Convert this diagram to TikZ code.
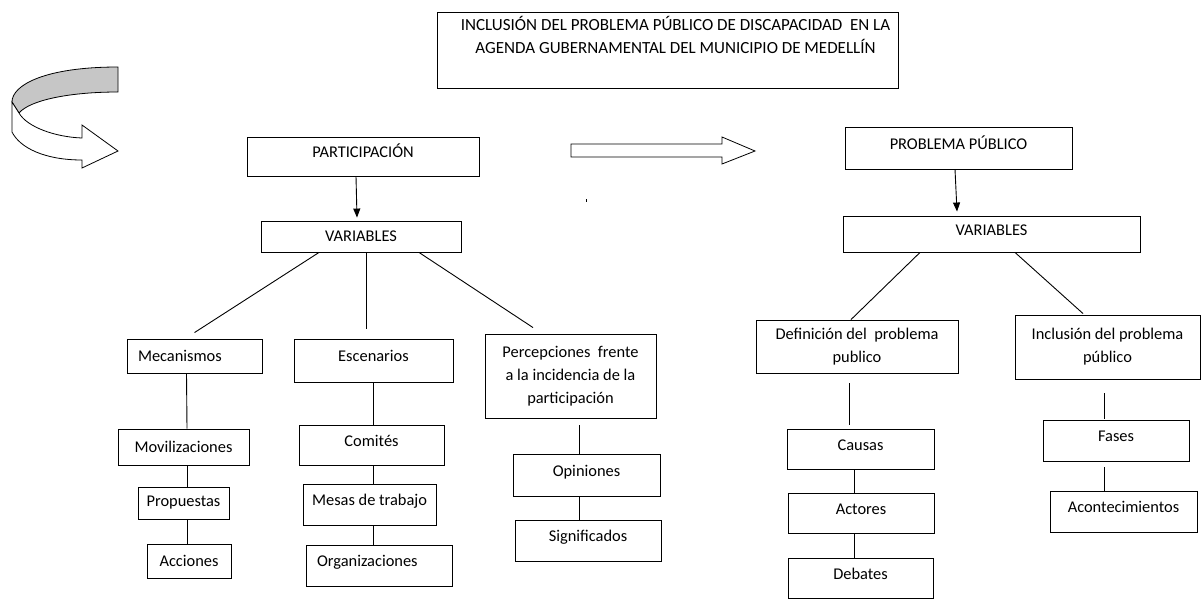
\documentclass[tikz,border=0pt]{standalone}
\usepackage{fontspec}
\setmainfont{Carlito}
\usetikzlibrary{calc,arrows.meta}

\begin{document}
\begin{tikzpicture}[x=1pt,y=-1pt]
\colorlet{foldcol}{gray!45}
\tikzstyle{box}=[draw=black,line width=0.9pt,rectangle,align=center,inner sep=0pt,font=\fontsize{16.4}{23}\selectfont];
\tikzstyle{up}=[box,text height=11pt,text depth=9pt];
\tikzstyle{lbox}=[box,align=left,inner xsep=11pt];
\tikzstyle{link}=[line width=0.9pt];
\tikzstyle{down}=[link,-{Triangle[length=9pt,width=7pt]}];

\useasboundingbox (0,0) rectangle (1201,598);

% title
\node[box,minimum width=461pt,minimum height=76pt,font=\fontsize{17}{23}\selectfont] (title) at (667.5,50)
  {\hspace*{16pt}INCLUSIÓN DEL PROBLEMA PÚBLICO DE DISCAPACIDAD\ \ EN LA\\\hspace*{16pt}AGENDA GUBERNAMENTAL DEL MUNICIPIO DE MEDELLÍN\\ \strut};

% curved arrow
\filldraw[fill=foldcol,line width=0.8pt] (118,67) .. controls (45,67) and (12,85) .. (12,102)
  -- (19,113) .. controls (30,100) and (70,92) .. (118,92) -- cycle;
\filldraw[fill=white,line width=0.8pt] (12,102) -- (12,132) .. controls (20,148) and (45,160) .. (82,160)
  -- (82,168) -- (118,151) -- (82,125) -- (82,138) .. controls (55,137) and (27,127) .. (19,113) -- cycle;

% block arrow
\draw[line width=0.8pt] (571,144) -- (722,144) -- (722,137) -- (755,151) -- (722,164) -- (722,157) -- (571,157) -- cycle;
\draw[line width=0.6pt] (586,199) -- (586,202);

\begin{scope}
    \node[up,minimum width=232pt,minimum height=39pt] (part) at (363,156.5) {PARTICIPACIÓN};
    \node[box,minimum width=200pt,minimum height=31pt] (var1) at (361,236.5) {VARIABLES};

    \node[lbox,minimum width=135pt,minimum height=34pt,text width=113pt] (mec) at (194.5,356) {Mecanismos};
    \node[box,minimum width=131pt,minimum height=36pt] (mov) at (183.5,447) {Movilizaciones};
    \node[box,minimum width=91pt,minimum height=32pt] (prop) at (183.5,503) {Propuestas};
    \node[box,minimum width=84pt,minimum height=34pt] (acc) at (189,561) {Acciones};

    \node[up,minimum width=159pt,minimum height=43pt] (esc) at (373.5,360.5) {Escenarios};
    \node[up,minimum width=145pt,minimum height=40pt] (com) at (371.5,445) {Comités};
    \node[up,minimum width=133pt,minimum height=41pt] (mesa) at (369.5,504.5) {Mesas de trabajo};
    \node[up,lbox,minimum width=146pt,minimum height=41pt,text width=124pt] (org) at (379,565.5) {Organizaciones};

    \node[box,minimum width=171pt,minimum height=84pt] (perc) at (570.5,376)
      {Percepciones\ \ frente\\a la incidencia de la\\participación};
    \node[up,minimum width=147pt,minimum height=42pt] (opi) at (586.5,475) {Opiniones};
    \node[up,minimum width=146pt,minimum height=41pt] (sig) at (588,540.5) {Significados};
\end{scope}

\begin{scope}
    \node[up,minimum width=227pt,minimum height=42pt] (prob) at (958.5,148) {PROBLEMA PÚBLICO};
    \node[up,minimum width=297pt,minimum height=36pt] (var2) at (991.5,234) {VARIABLES};

    \node[box,minimum width=202pt,minimum height=53pt] (def) at (857,346.5) {Definición del\ \ problema\\publico};
    \node[up,minimum width=147pt,minimum height=40pt] (cau) at (860.5,449) {Causas};
    \node[up,minimum width=146pt,minimum height=40pt] (act) at (861,513) {Actores};
    \node[up,minimum width=145pt,minimum height=40pt] (deb) at (860.5,578) {Debates};

    \node[box,minimum width=185pt,minimum height=64pt] (inc) at (1107.5,347) {Inclusión del problema\\público};
    \node[up,minimum width=146pt,minimum height=41pt] (fas) at (1116,440.5) {Fases};
    \node[up,minimum width=147pt,minimum height=41pt] (acon) at (1123.5,511.5) {Acontecimientos};
\end{scope}

% connectors, left tree
\draw[down] ($(part.south)+(-7,0)$) -- ($(var1.north)+(-4,-3)$);
\draw[link] ($(var1.south)+(-42,0)$) -- ($(mec.north)+(0,-6)$);
\draw[link] ($(var1.south)+(5,0)$) -- ($(esc.north)+(-7.5,-10)$);
\draw[link] ($(var1.south)+(58,0)$) -- ($(perc.north)+(-37.5,-6)$);
\draw[link] ($(mec.south)+(-8,0)$) -- ($(mov.north)+(3.5,0)$);
\draw[link] ($(mov.south)+(3.5,0)$) -- ($(prop.north)+(3.5,0)$);
\draw[link] ($(prop.south)+(3.5,0)$) -- ($(acc.north)+(-2,0)$);
\draw[link] (esc.south) -- (com.north -| esc.south);
\draw[link] (com.south -| esc.south) -- (mesa.north -| esc.south);
\draw[link] (mesa.south -| esc.south) -- (org.north -| esc.south);
\draw[link] ($(perc.south)+(8.5,7)$) -- ($(opi.north)+(-7.5,0)$);
\draw[link] ($(opi.south)+(-7.5,0)$) -- ($(sig.north)+(-9,0)$);

% connectors, right tree
\draw[down] ($(prob.south)+(-3.5,0)$) -- ($(var2.north)+(-34.5,-4)$);
\draw[link] ($(var2.south)+(-71.5,0)$) -- ($(def.north)+(-6,0)$);
\draw[link] ($(var2.south)+(23.5,0)$) -- ($(inc.north)+(-24.5,-1)$);
\draw[link] ($(def.south)+(-8,10)$) -- ($(cau.north)+(-11.5,-4)$);
\draw[link] ($(cau.south)+(-6.5,0)$) -- ($(act.north)+(-7,0)$);
\draw[link] ($(act.south)+(-7,0)$) -- ($(deb.north)+(-6.5,0)$);
\draw[link] ($(inc.south)+(-3.5,14)$) -- ($(fas.north)+(-12,-1)$);
\draw[link] ($(fas.south)+(-12,6)$) -- ($(acon.north)+(-19.5,1)$);

\end{tikzpicture}
\end{document}
